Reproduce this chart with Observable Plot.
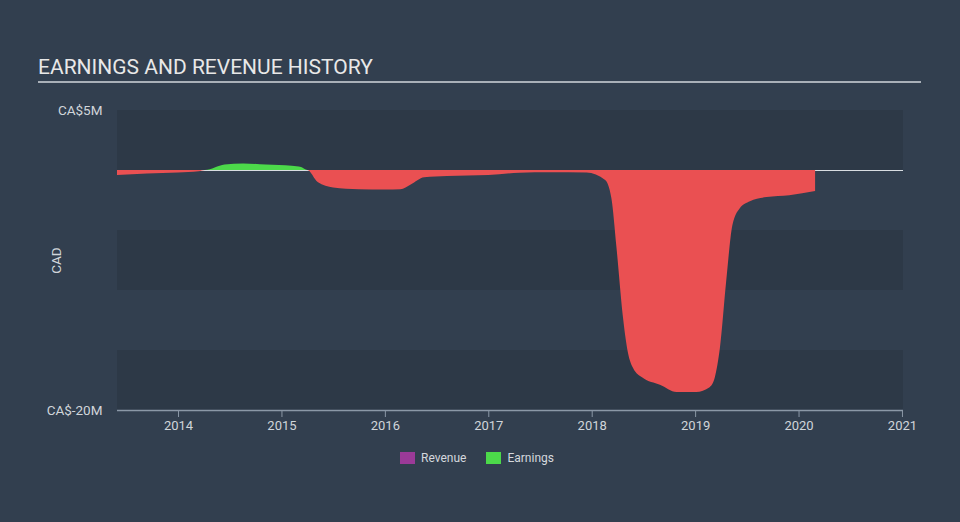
<!DOCTYPE html>
<html>
<head>
<meta charset="utf-8">
<script src="https://cdn.jsdelivr.net/npm/d3@7"></script>
<script src="https://cdn.jsdelivr.net/npm/@observablehq/plot@0.6"></script>
<style>
  html, body { margin: 0; padding: 0; background: #323f4f; }
  #wrap { position: relative; width: 960px; height: 522px; background: #323f4f; font-family: Roboto, "Noto Sans", sans-serif; overflow: hidden; }
  #title { position: absolute; left: 38px; top: 55px; width: 883px; color: #e8e8e8; font-size: 21px; line-height: 25px; padding-bottom: 1px; border-bottom: 2px solid #a9b0b8; }
  #legend { position: absolute; top: 451px; left: -3px; width: 960px; display: flex; justify-content: center; gap: 20px; color: #d4d8dd; font-size: 12px; }
  .item { display: flex; align-items: center; gap: 6px; }
  .sw { width: 15px; height: 12px; display: inline-block; }
  #chart { position: absolute; left: 0; top: 0; }
</style>
</head>
<body>
<div id="wrap">
  <div id="chart"></div>
  <div id="title">EARNINGS AND REVENUE HISTORY</div>
  <div id="legend"></div>
</div>
<script>
// Earnings (CA$ millions), decimal year
const years = [2013.41, 2013.7, 2014.0, 2014.2, 2014.26, 2014.45, 2014.63, 2014.85, 2015.1, 2015.19, 2015.25,
  2015.35, 2015.5, 2015.75, 2016.0, 2016.15, 2016.25, 2016.38, 2016.6, 2017.0, 2017.3, 2017.6, 2017.95,
  2018.13, 2018.19, 2018.24, 2018.30, 2018.35, 2018.40, 2018.49, 2018.66, 2018.82, 2019.01, 2019.14,
  2019.19, 2019.24, 2019.30, 2019.36, 2019.43, 2019.53, 2019.69, 2019.91, 2020.16];
const earnings = [-0.42, -0.3, -0.21, -0.1, 0, 0.45, 0.55, 0.45, 0.35, 0.25, 0,
  -1.0, -1.45, -1.6, -1.62, -1.6, -1.2, -0.6, -0.5, -0.42, -0.22, -0.18, -0.2,
  -0.83, -2.33, -6.5, -12.1, -15.2, -16.5, -17.3, -17.9, -18.5, -18.5, -18.1,
  -17.3, -14.8, -9.3, -4.6, -3.2, -2.6, -2.25, -2.1, -1.75];
const revenue = years.map(() => 0);

const xDomain = [2013.41, 2021.01];
const yDomain = [-20, 5];
const xTicks = [2014, 2015, 2016, 2017, 2018, 2019, 2020, 2021];
const yTicks = [5, -20];
const bandEdges = [[5, 0], [-5, -10], [-15, -20]];
const legendItems = [["Revenue", "#9b3a98"], ["Earnings", "#4cd94a"]];

const data = years.map((t, i) => ({t, v: earnings[i], r: revenue[i]}));
const bands = bandEdges.map(([a, b]) => ({x1: xDomain[0], x2: xDomain[1], y1: a, y2: b}));

const plot = Plot.plot({
  width: 960,
  height: 522,
  marginTop: 110,
  marginBottom: 112,
  marginLeft: 117,
  marginRight: 57,
  style: {background: "transparent", color: "#c9d0d8", fontSize: "12px", fontFamily: "Roboto, sans-serif"},
  x: {domain: xDomain},
  y: {domain: yDomain},
  marks: [
    Plot.rect(bands, {x1: "x1", x2: "x2", y1: "y1", y2: "y2", fill: "#2d3947"}),
    Plot.areaY(data, {x: "t", y1: 0, y2: d => Math.max(d.v, 0), fill: "#4cd94a", curve: "monotone-x"}),
    Plot.ruleY([0], {stroke: "#d8dde2", strokeWidth: 1}),
    Plot.areaY(data, {x: "t", y1: 0, y2: d => Math.min(d.v, 0), fill: "#ea5052", curve: "monotone-x"}),
    Plot.ruleY([yDomain[0]], {stroke: "#8b98a7", strokeWidth: 1.5}),
    Plot.axisX({ticks: xTicks, tickFormat: d => String(d), tickSize: 7, stroke: "#8b98a7", tickPadding: 3, label: null, fontSize: 13, color: "#d0d5da"}),
    Plot.axisY({ticks: yTicks, tickFormat: d => `CA$${d}M`, tickSize: 0, tickPadding: 15, label: "CAD", labelAnchor: "center", labelArrow: false, labelOffset: 66, fontSize: 13.5, color: "#d0d5da"})
  ]
});
document.getElementById("chart").appendChild(plot);

const leg = document.getElementById("legend");
for (const [name, col] of legendItems) {
  const it = document.createElement("div");
  it.className = "item";
  it.innerHTML = `<span class="sw" style="background:${col}"></span><span>${name}</span>`;
  leg.appendChild(it);
}
</script>
</body>
</html>
